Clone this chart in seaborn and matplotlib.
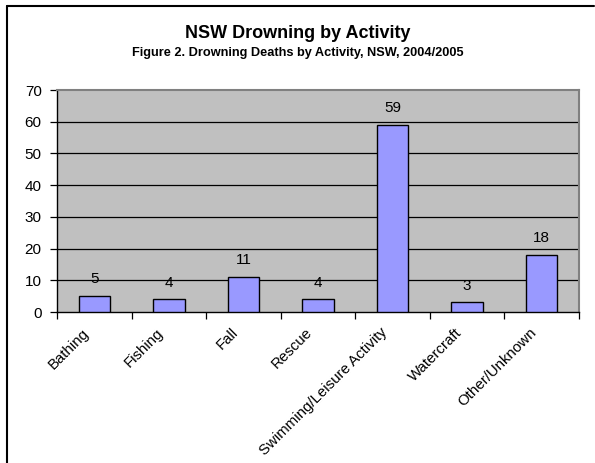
import matplotlib
matplotlib.use("Agg")
import matplotlib.pyplot as plt
import seaborn as sns
import pandas as pd
from matplotlib.lines import Line2D

activities = ["Bathing", "Fishing", "Fall", "Rescue",
              "Swimming/Leisure Activity", "Watercraft", "Other/Unknown"]
deaths = [5, 4, 11, 4, 59, 3, 18]
y_ticks = [0, 10, 20, 30, 40, 50, 60, 70]

sns.set_theme(style="white")
plt.rcParams["font.family"] = ["Liberation Sans", "DejaVu Sans"]
plt.rcParams["text.color"] = "black"
plt.rcParams["xtick.color"] = "black"
plt.rcParams["ytick.color"] = "black"

df = pd.DataFrame({"activity": activities, "deaths": deaths})

W, H = 595, 463
fig = plt.figure(figsize=(W / 100, H / 100), dpi=100)
fig.patch.set_facecolor("white")

ax = fig.add_axes([57 / W, 1 - 312 / H, (579 - 57) / W, (312 - 90) / H])
ax.set_facecolor("#C0C0C0")

sns.barplot(data=df, x="activity", y="deaths", ax=ax, color="#9999FF",
            saturation=1, width=0.42, edgecolor="black", linewidth=1.0,
            zorder=3)

ax.set_ylim(0, 70)
ax.set_xlim(-0.5, len(activities) - 0.5)
ax.set_yticks(y_ticks)
ax.set_yticklabels([str(t) for t in y_ticks], fontsize=11)
for t in y_ticks[1:-1]:
    ax.axhline(t, color="black", linewidth=0.9, zorder=1)

# category ticks sit on the boundaries between bars
ax.set_xticks([i - 0.5 for i in range(len(activities) + 1)])
ax.set_xticklabels([])
ax.tick_params(axis="x", direction="out", length=5, width=0.9,
               color="black", bottom=True)
ax.tick_params(axis="y", direction="out", length=5, width=0.9,
               color="black", left=True, pad=6)
for i, name in enumerate(activities):
    ax.text(i - 0.17, -4.3, name, rotation=45, ha="right", va="top",
            rotation_mode="anchor", fontsize=10.8, color="black")

ax.set_xlabel("")
ax.set_ylabel("")

for side in ["left", "bottom"]:
    ax.spines[side].set_color("black")
    ax.spines[side].set_linewidth(1.0)
for side in ["top", "right"]:
    ax.spines[side].set_color("#808080")
    ax.spines[side].set_linewidth(1.5)

for i, v in enumerate(deaths):
    ax.annotate(str(v), (i, v), xytext=(0, 7), textcoords="offset points",
                ha="center", va="bottom", fontsize=11, color="black")

fig.text(0.5, 1 - 34 / H, "NSW Drowning by Activity", ha="center",
         va="center", fontsize=13, fontweight="bold", color="black")
fig.text(0.5, 1 - 53 / H, "Figure 2. Drowning Deaths by Activity, NSW, 2004/2005",
         ha="center", va="center", fontsize=9.2, fontweight="bold",
         color="black")

# outer chart frame (left and top edges)
fig.add_artist(Line2D([7 / W, 7 / W], [0, 1 - 6 / H], color="black",
                      linewidth=1.5, transform=fig.transFigure))
fig.add_artist(Line2D([7 / W, 594 / W], [1 - 6 / H, 1 - 6 / H], color="black",
                      linewidth=1.5, transform=fig.transFigure))

fig.savefig("out.png", dpi=100)
